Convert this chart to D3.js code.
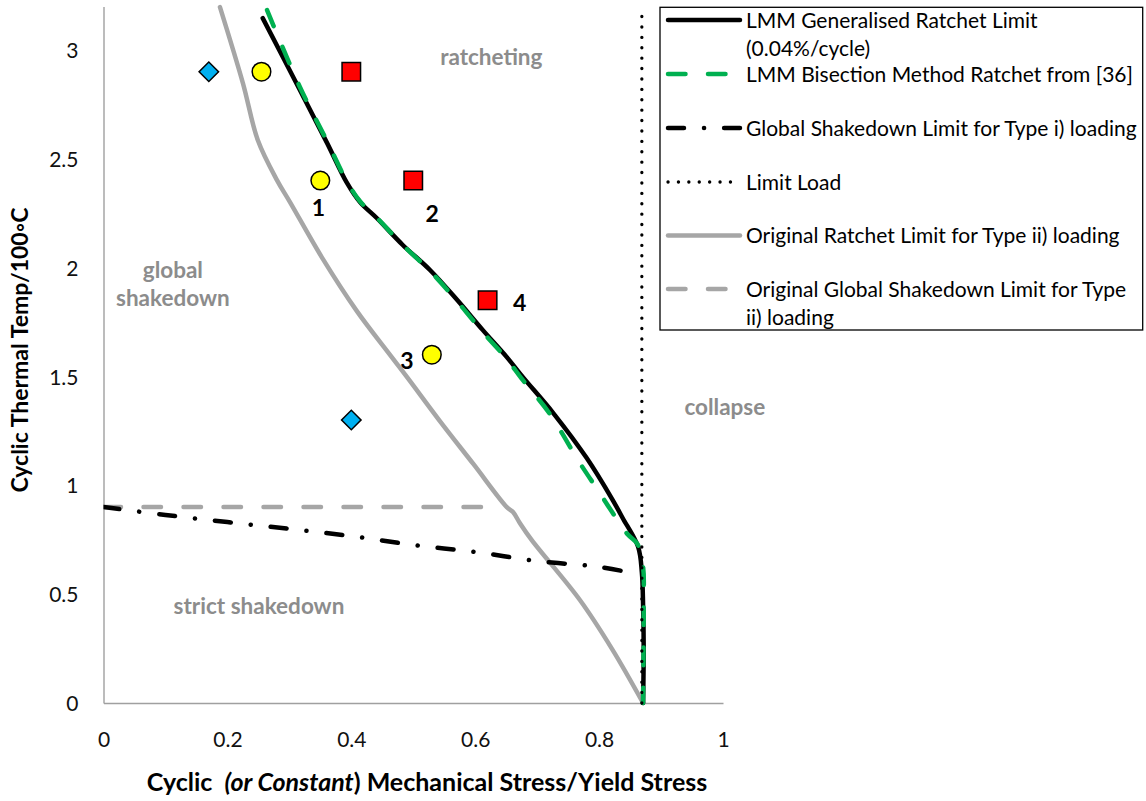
<!DOCTYPE html>
<html>
<head>
<meta charset="utf-8">
<script src="https://cdn.jsdelivr.net/npm/d3@7"></script>
<style>
  body { margin: 0; background: #fff; }
  svg text { font-family: Lato, "Open Sans", "DejaVu Sans", sans-serif; white-space: pre; }
</style>
</head>
<body>
<svg id="chart" width="1146" height="801"></svg>
<script>
// ---- data -------------------------------------------------------------
const xTicks = [0, 0.2, 0.4, 0.6, 0.8, 1];
const yTicks = [0, 0.5, 1, 1.5, 2, 2.5, 3];

// LMM generalised ratchet limit (0.04%/cycle)
const lmmRatchet = [
  [0.257, 3.146], [0.317, 2.816], [0.361, 2.572], [0.393, 2.389], [0.414, 2.301],
  [0.441, 2.228], [0.483, 2.104], [0.527, 1.989], [0.571, 1.851], [0.612, 1.714],
  [0.651, 1.589], [0.677, 1.497], [0.726, 1.332], [0.780, 1.125], [0.822, 0.932],
  [0.838, 0.850], [0.863, 0.717], [0.869, 0.600], [0.871, 0.450], [0.872, 0.250],
  [0.871, 0.000]
];

// LMM bisection method ratchet limit
const bisectionRatchet = [
  [0.264, 3.183], [0.317, 2.830], [0.361, 2.580], [0.393, 2.395], [0.414, 2.305],
  [0.441, 2.230], [0.483, 2.104], [0.527, 1.985], [0.571, 1.845], [0.612, 1.705],
  [0.651, 1.580], [0.675, 1.490], [0.720, 1.330], [0.769, 1.102], [0.801, 0.965],
  [0.822, 0.873], [0.846, 0.775], [0.862, 0.730], [0.871, 0.625], [0.872, 0.470],
  [0.871, 0.000]
];

// Global shakedown limit, type i) loading
const globalShakedownI = [
  [0, 0.900], [0.1, 0.864], [0.2, 0.831], [0.3, 0.800], [0.4, 0.767],
  [0.5, 0.726], [0.6, 0.694], [0.7, 0.652], [0.8, 0.625], [0.866, 0.590]
];

// Limit load
const limitLoad = [[0.869, 0], [0.869, 3.2]];

// Original ratchet limit, type ii) loading
const originalRatchet = [
  [0.188, 3.197], [0.225, 2.848], [0.249, 2.586], [0.280, 2.402], [0.301, 2.301],
  [0.354, 2.040], [0.409, 1.800], [0.4625, 1.599], [0.490, 1.497], [0.543, 1.295],
  [0.597, 1.098], [0.651, 0.900], [0.661, 0.877], [0.672, 0.827], [0.691, 0.749],
  [0.769, 0.473], [0.822, 0.243], [0.871, 0.000]
];

// Original global shakedown limit, type ii) loading
const originalShakedown = [[0, 0.9], [0.63, 0.9]];

// Analysed load cases
const shakedownCases = [[0.17, 2.9], [0.4, 1.3]];                 // diamonds
const boundaryCases = [[0.255, 2.9], [0.35, 2.4], [0.53, 1.6]];    // circles
const ratchetCases = [[0.4, 2.9], [0.5, 2.4], [0.62, 1.85]];       // squares

const caseNames = ["1", "2", "3", "4"];
const casePoints = [[0.35, 2.4], [0.5, 2.4], [0.53, 1.6], [0.62, 1.85]];

const regionNames = ["ratcheting", "global", "shakedown", "strict shakedown", "collapse"];
const regionAnchors = [[0.626, 2.965], [0.112, 1.99], [0.112, 1.86], [0.251, 0.443], [1.003, 1.36]];

const legendLabels = [
  ["LMM Generalised Ratchet Limit", "(0.04%/cycle)"],
  ["LMM Bisection Method Ratchet from [36]"],
  ["Global Shakedown Limit for Type i) loading"],
  ["Limit Load"],
  ["Original Ratchet Limit for Type ii) loading"],
  ["Original Global Shakedown Limit for Type", "ii) loading"]
];

// ---- layout -----------------------------------------------------------
const svg = d3.select("#chart");
const margin = { left: 103.5, right: 423, top: 6.4, bottom: 98 };
const W = 1146, H = 801;

const x = d3.scaleLinear().domain([0, 1]).range([margin.left, W - margin.right]);
const y = d3.scaleLinear().domain([0, 3.2]).range([H - margin.bottom, margin.top]);

const BLACK = "#000000", GREEN = "#00b050", GREY = "#a6a6a6", AXIS = "#a0a0a0";

const seriesStyles = [
  { data: lmmRatchet,        color: BLACK, width: 4.5, dash: null,               cap: "round" },
  { data: bisectionRatchet,  color: GREEN, width: 4.5, dash: "17.5,22.5",        cap: "round" },
  { data: globalShakedownI,  color: BLACK, width: 4.5, dash: "16,20,0.1,20",     cap: "round" },
  { data: limitLoad,         color: BLACK, width: 3.3, dash: "0.1,10.3",         cap: "round" },
  { data: originalRatchet,   color: GREY,  width: 4.5, dash: null,               cap: "round" },
  { data: originalShakedown, color: GREY,  width: 4.5, dash: "17.5,22.5",        cap: "round" }
];

// ---- axes -------------------------------------------------------------
const xAxis = d3.axisBottom(x).tickValues(xTicks).tickSize(0).tickPadding(0)
  .tickFormat(d3.format("~g"));
const yAxis = d3.axisLeft(y).tickValues(yTicks).tickSize(0).tickPadding(0)
  .tickFormat(d3.format("~g"));

const gx = svg.append("g").attr("transform", `translate(0,${y(0)})`).call(xAxis);
gx.select(".domain").attr("stroke", AXIS).attr("stroke-width", 1.4);
gx.selectAll(".tick text")
  .attr("y", 0).attr("dy", 0).attr("transform", "translate(0,44)")
  .attr("font-size", 21).attr("fill", "#111").attr("font-family", null);

const gy = svg.append("g").attr("transform", `translate(${x(0)},0)`).call(yAxis);
gy.select(".domain").attr("stroke", AXIS).attr("stroke-width", 1.4);
gy.selectAll(".tick text")
  .attr("x", -25).attr("dy", "0.36em")
  .attr("font-size", 21).attr("fill", "#111").attr("font-family", null);

// axis titles
const xTitle = svg.append("text")
  .attr("x", 427).attr("y", 791).attr("text-anchor", "middle")
  .attr("font-size", 25).attr("font-weight", "bold").attr("fill", "#000");
xTitle.append("tspan").text("Cyclic  ");
xTitle.append("tspan").attr("font-style", "italic").text("(or Constant");
xTitle.append("tspan").text(") Mechanical Stress/Yield Stress");

svg.append("text")
  .attr("transform", "translate(28,350) rotate(-90)")
  .attr("text-anchor", "middle")
  .attr("font-size", 23).attr("font-weight", "bold").attr("fill", "#000")
  .text("Cyclic Thermal Temp/100\u25E6C");

// ---- region annotations ----------------------------------------------
svg.append("g").selectAll("text").data(regionNames).join("text")
  .attr("x", (d, i) => x(regionAnchors[i][0]))
  .attr("y", (d, i) => y(regionAnchors[i][1]))
  .attr("dy", "0.35em")
  .attr("text-anchor", "middle")
  .attr("font-size", 22.5).attr("font-weight", "bold").attr("fill", "#8c8c8c")
  .text(d => d);

// ---- curves -----------------------------------------------------------
const line = d3.line()
  .x(d => x(d[0])).y(d => y(d[1]))
  .curve(d3.curveCatmullRom.alpha(0.5));

svg.append("defs").append("clipPath").attr("id", "plot-clip")
  .append("rect").attr("x", x(0)).attr("y", 0)
  .attr("width", x(1) - x(0) + 10).attr("height", y(0) + 3);

const curves = svg.append("g").attr("clip-path", "url(#plot-clip)");
const drawOrder = [4, 5, 2, 0, 1, 3];
drawOrder.forEach(i => {
  const s = seriesStyles[i];
  curves.append("path")
    .attr("d", line(s.data))
    .attr("fill", "none")
    .attr("stroke", s.color)
    .attr("stroke-width", s.width)
    .attr("stroke-linecap", s.cap)
    .attr("stroke-linejoin", "round")
    .attr("stroke-dasharray", s.dash);
});

// ---- markers ----------------------------------------------------------
const marks = svg.append("g");
marks.selectAll(".diamond").data(shakedownCases).join("path")
  .attr("class", "diamond")
  .attr("d", d3.symbol(d3.symbolSquare, 190))
  .attr("transform", d => `translate(${x(d[0])},${y(d[1])}) rotate(45)`)
  .attr("fill", "#00b0f0").attr("stroke", "#000").attr("stroke-width", 1.5);

marks.selectAll(".circle").data(boundaryCases).join("circle")
  .attr("class", "circle")
  .attr("cx", d => x(d[0])).attr("cy", d => y(d[1])).attr("r", 9.3)
  .attr("fill", "#ffff00").attr("stroke", "#000").attr("stroke-width", 1.5);

marks.selectAll(".square").data(ratchetCases).join("path")
  .attr("class", "square")
  .attr("d", d3.symbol(d3.symbolSquare, 18.5 * 18.5))
  .attr("transform", d => `translate(${x(d[0])},${y(d[1])})`)
  .attr("fill", "#ff0000").attr("stroke", "#000").attr("stroke-width", 1.5);

// case numbers beside their markers
const caseOffsets = [[-2, 27], [19, 33], [-25, 6], [32, 2]];
marks.selectAll(".case").data(caseNames).join("text")
  .attr("class", "case")
  .attr("x", (d, i) => x(casePoints[i][0]) + caseOffsets[i][0])
  .attr("y", (d, i) => y(casePoints[i][1]) + caseOffsets[i][1])
  .attr("dy", "0.36em")
  .attr("text-anchor", "middle")
  .attr("font-size", 23).attr("font-weight", "bold").attr("fill", "#000")
  .text(d => d);

// ---- legend -----------------------------------------------------------
const legend = svg.append("g");
legend.append("rect")
  .attr("x", 660).attr("y", 7.3).attr("width", 482.7).attr("height", 322.7)
  .attr("fill", "#fff").attr("stroke", "#000").attr("stroke-width", 1.3);

const rowY = [20, 74, 128, 182, 235.5, 289];
seriesStyles.forEach((s, i) => {
  const g = legend.append("g").attr("transform", `translate(0,${rowY[i]})`);
  g.append("line")
    .attr("x1", 668).attr("x2", 740).attr("y1", 0).attr("y2", 0)
    .attr("stroke", s.color).attr("stroke-width", s.width)
    .attr("stroke-linecap", s.cap)
    .attr("stroke-dasharray", s.dash);
  legendLabels[i].forEach((t, k) => {
    g.append("text")
      .attr("x", 746).attr("y", k * 28).attr("dy", "0.36em")
      .attr("font-size", 21).attr("fill", "#000")
      .text(t);
  });
});
</script>
</body>
</html>
